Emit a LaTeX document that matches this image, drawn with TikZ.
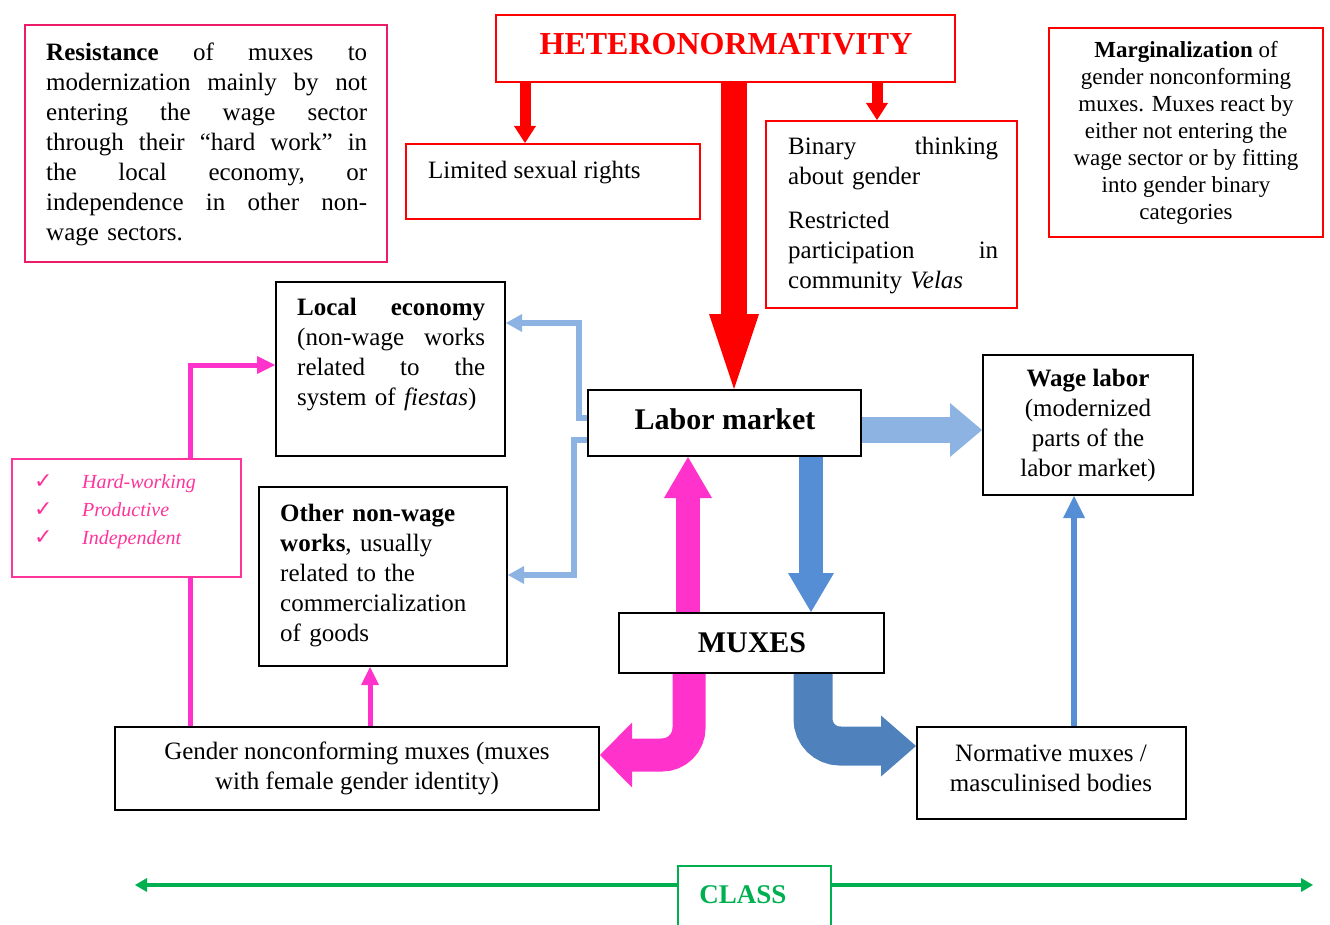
\documentclass[tikz,border=0pt]{standalone}
\usepackage{fontspec}
\setmainfont{Liberation Serif}
\newfontfamily\djv{DejaVu Sans}
\usetikzlibrary{arrows.meta}
\definecolor{hetred}{HTML}{FF0000}
\definecolor{respink}{HTML}{EC1C6A}
\definecolor{hwpink}{HTML}{FF3399}
\definecolor{pkarrow}{HTML}{FF33CC}
\definecolor{lblue}{HTML}{8DB3E2}
\definecolor{mblue}{HTML}{558ED5}
\definecolor{dblue}{HTML}{4F81BD}
\definecolor{clsgreen}{HTML}{00B050}
\newcommand\bodyf{\fontsize{25}{30}\selectfont}
\newcommand\margf{\fontsize{23}{27}\selectfont}
\newcommand\chk{\makebox[48pt][l]{\djv\upshape\fontsize{22}{24}\selectfont ✓}}
\begin{document}
\begin{tikzpicture}[x=1pt,y=-1pt,
  bx/.style={draw=black, line width=2pt, fill=white, inner sep=0pt},
  rbx/.style={draw=hetred, line width=2pt, fill=white, inner sep=0pt},
  txt/.style={inner sep=0pt, align=left, font=\bodyf},
  thick arrow/.style n args={4}{draw=#1, line width=#2, -{Triangle[width=#3,length=#4,line width=0pt]}},
]
\useasboundingbox (0,0) rectangle (1330,925);

% ---- boxes ----
\node[draw=respink, line width=2pt, fill=white, inner sep=0pt, minimum width=362pt, minimum height=237pt] (res) at (206,143.5) {};
\node[rbx, minimum width=459pt, minimum height=67pt] (het) at (725.5,48.5) {};
\node[rbx, minimum width=294pt, minimum height=75pt] (lim) at (553,181.5) {};
\node[rbx, minimum width=251pt, minimum height=187pt] (bin) at (891.5,214.5) {};
\node[rbx, minimum width=274pt, minimum height=209pt, align=center, font=\margf] (marg) at (1186,133)
  {\textbf{Marginalization} of\\gender nonconforming\\muxes. Muxes react by\\either not entering the\\wage sector or by fitting\\into gender binary\\categories};
\node[bx, minimum width=229pt, minimum height=174pt] (loc) at (390.5,369) {};
\node[bx, minimum width=248pt, minimum height=179pt] (oth) at (383,576.5) {};
\node[bx, minimum width=273pt, minimum height=66pt] (lab) at (724.5,423) {};
\node[bx, minimum width=210pt, minimum height=140pt, align=center, font=\bodyf] (wage) at (1088,425)
  {\textbf{Wage labor}\\(modernized\\parts of the\\labor market)};
\node[draw=hwpink, line width=2pt, fill=white, inner sep=0pt, minimum width=229pt, minimum height=118pt] (hw) at (126.5,518) {};
\node[bx, minimum width=265pt, minimum height=60pt] (mux) at (751.5,643) {};
\node[bx, minimum width=484pt, minimum height=83pt, align=center, font=\bodyf] (gen) at (357,768.5)
  {Gender nonconforming muxes (muxes\\with female gender identity)};
\node[bx, minimum width=269pt, minimum height=92pt] (nor) at (1051.5,773) {};
\node[inner sep=0pt, minimum width=153pt, minimum height=59pt, anchor=north west] (clsbox) at (678,866) {};

% ---- texts ----
\node[txt, anchor=north west, text width=321pt] (rest) at (46,43)
  {\textbf{Resistance}\hfill of\hfill muxes\hfill to\\
   modernization\hfill mainly\hfill by\hfill not\\
   entering\hfill the\hfill wage\hfill sector\\
   through\hfill their\hfill “hard\hfill work”\hfill in\\
   the\hfill local\hfill economy,\hfill or\\
   independence\hfill in\hfill other\hfill non-\\
   wage sectors.};
\node[anchor=base, inner sep=0pt, text=hetred, font=\fontsize{32}{36}\selectfont\bfseries] (hett) at (726,55) {HETERONORMATIVITY};
\node[txt, anchor=north west] (limt) at (428,161) {Limited sexual rights};
\node[txt, anchor=north west, text width=210pt] (bint) at (788,137)
  {Binary\hfill thinking\\ about gender\\[14pt]
   Restricted\\ participation\hfill in\\ community \textit{Velas}};
\node[txt, anchor=north west, text width=188pt] (loct) at (297,298)
  {\textbf{Local}\hfill\textbf{economy}\\ (non-wage\hfill works\\ related\hfill to\hfill the\\ system of \textit{fiestas})};
\node[txt, anchor=north west, text width=225pt] (otht) at (280,504)
  {\textbf{Other non-wage}\\ \textbf{works}, usually\\ related to the\\ commercialization\\ of goods};
\node[anchor=base, inner sep=0pt, font=\fontsize{30}{34}\selectfont\bfseries] (labt) at (725,429) {Labor market};
\node[anchor=base, inner sep=0pt, font=\fontsize{30}{34}\selectfont\bfseries] (muxt) at (752,652) {MUXES};
\node[txt, align=center] (nort) at (1051,768) {Normative muxes /\\masculinised bodies};
\node[anchor=west, inner sep=0pt, align=left, text=hwpink, font=\fontsize{20}{28}\selectfont\itshape] (hwt) at (34,512)
  {\chk Hard-working\\ \chk Productive\\ \chk Independent};
\node[anchor=base, inner sep=0pt, text=clsgreen, font=\fontsize{27}{30}\selectfont\bfseries] (clst) at (743,903) {CLASS};

% ---- connectors ----
\draw[thick arrow={hetred}{11pt}{22pt}{17pt}] ([xshift=30pt]het.south west) -- ([xshift=30pt]het.south west |- lim.north);
\draw[thick arrow={hetred}{11pt}{22pt}{17pt}] ([xshift=-79pt]het.south east) -- ([xshift=-79pt]het.south east |- bin.north);
\draw[thick arrow={hetred}{26pt}{50pt}{75pt}] ([xshift=8.5pt]het.south) -- ([xshift=8.5pt]het.south |- lab.north);

\draw[thick arrow={lblue}{26pt}{54pt}{32pt}] ([yshift=-7pt]lab.east) -- ([yshift=-7pt]lab.east -| wage.west);
\draw[thick arrow={lblue}{6pt}{18pt}{16pt}] ([yshift=5pt]lab.west) -- ++(-8,0) |- ([yshift=46pt]loc.east);
\draw[thick arrow={lblue}{6pt}{18pt}{16pt}] ([yshift=-17pt]lab.west) -- ++(-13,0) |- ([yshift=1.5pt]oth.east);

\draw[thick arrow={pkarrow}{24pt}{48pt}{41pt}] ([xshift=-63.5pt]mux.north) -- ([xshift=-63.5pt]mux.north |- lab.south);
\draw[thick arrow={mblue}{24pt}{46pt}{39pt}] ([xshift=86.5pt]lab.south) -- ([xshift=86.5pt]lab.south |- mux.north);

\draw[thick arrow={pkarrow}{33pt}{65pt}{32pt}, rounded corners=27pt] ([xshift=-62.5pt]mux.south) |- ([yshift=13.5pt]gen.east);
\draw[thick arrow={dblue}{39pt}{61pt}{35pt}, rounded corners=27pt] ([xshift=61.5pt]mux.south) |- ([yshift=27pt]nor.west);

\draw[thick arrow={pkarrow}{5pt}{18pt}{18pt}] ([xshift=13pt]gen.north) -- ([xshift=13pt]gen.north |- oth.south);
\draw[draw=pkarrow, line width=5pt] ([xshift=-167pt]gen.north) -- ([xshift=-167pt]gen.north |- hw.south);
\draw[thick arrow={pkarrow}{5pt}{18pt}{18pt}] ([xshift=63.5pt]hw.north) |- ([yshift=4pt]loc.west);
\draw[thick arrow={mblue}{6pt}{22pt}{22pt}] ([xshift=22.5pt]nor.north) -- ([xshift=22.5pt]nor.north |- wage.south);

% ---- class ----
\coordinate (cL) at (135,885);
\coordinate (cR) at (1313,885);
\draw[draw=clsgreen, line width=2pt] (clsbox.south west) -- (clsbox.north west) -- (clsbox.north east) -- (clsbox.south east);
\draw[thick arrow={clsgreen}{4pt}{14pt}{12pt}] (clsbox.west |- cL) -- (cL);
\draw[thick arrow={clsgreen}{4pt}{14pt}{12pt}] (clsbox.east |- cR) -- (cR);
\end{tikzpicture}
\end{document}
